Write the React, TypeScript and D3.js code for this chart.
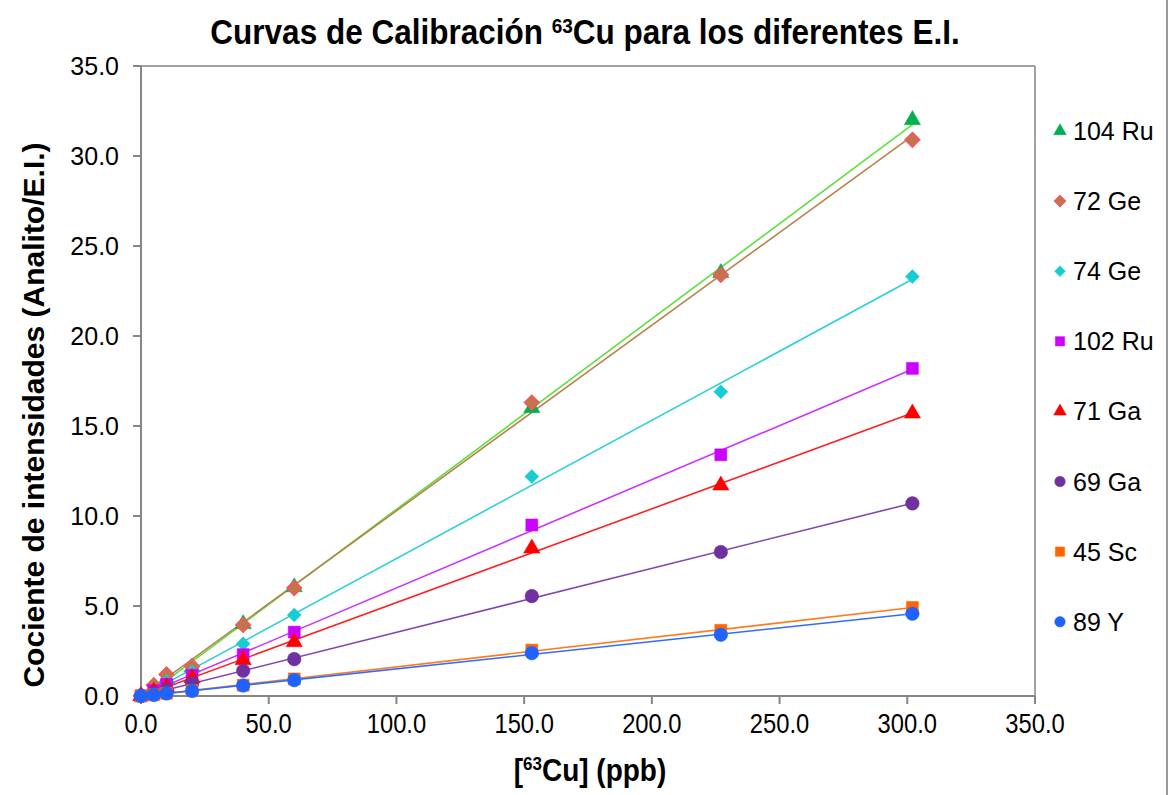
import React from "react";
import * as d3 from "d3";

const xValues = [0, 5, 10, 20, 40, 60, 153, 227, 302];

const ru104 = [0.02, 0.45, 0.95, 1.6, 4.0, 6.05, 16.0, 23.5, 32.0];
const ge72 = [0.03, 0.6, 1.2, 1.65, 3.95, 6.0, 16.3, 23.4, 30.9];
const ge74 = [0.02, 0.35, 0.8, 1.35, 2.9, 4.5, 12.2, 16.9, 23.3];
const ru102 = [0.01, 0.3, 0.65, 1.15, 2.3, 3.55, 9.5, 13.4, 18.2];
const ga71 = [0.0, 0.25, 0.5, 1.0, 2.0, 3.0, 8.2, 11.7, 15.7];
const ga69 = [0.0, 0.15, 0.35, 0.7, 1.4, 2.05, 5.55, 8.0, 10.7];
const sc45 = [0.0, 0.07, 0.15, 0.3, 0.6, 0.95, 2.55, 3.65, 4.92];
const y89 = [0.0, 0.06, 0.14, 0.28, 0.58, 0.88, 2.38, 3.4, 4.57];

const seriesNames = ["104 Ru", "72 Ge", "74 Ge", "102 Ru", "71 Ga", "69 Ga", "45 Sc", "89 Y"];
const seriesValues = [ru104, ge72, ge74, ru102, ga71, ga69, sc45, y89];
const seriesShapes = ["triangle", "diamond", "diamond", "square", "triangle", "circle", "square", "circle"];
const markerFill = ["#00b050", "#c27548", "#17cdd3", "#cc00ff", "#ff0000", "#7030a0", "#ff6600", "#1f63ff"];
const markerStroke = ["#00b050", "#e85d5e", "#17cdd3", "#cc00ff", "#ff0000", "#7030a0", "#ff6600", "#1f63ff"];
const lineColors = ["#5ee03a", "#b8824e", "#2ccfdc", "#cc33ff", "#ff2020", "#8048b0", "#ff7a1a", "#2f6cff"];

const xTicks = [0, 50, 100, 150, 200, 250, 300, 350];
const yTicks = [0, 5, 10, 15, 20, 25, 30, 35];

const W = 1170;
const H = 795;
const left = 141;
const right = 1035;
const top = 66;
const bottom = 696;

const FONT = "'Liberation Sans', Arial, Helvetica, sans-serif";
const AXIS = "#868686";

function symbolPath(shape: string, size: number) {
  let type: any = d3.symbolCircle;
  if (shape === "triangle") type = d3.symbolTriangle;
  if (shape === "square") type = d3.symbolSquare;
  if (shape === "diamond") type = (d3 as any).symbolDiamond2 || d3.symbolDiamond;
  return d3.symbol().type(type).size(size)() as string;
}

function markerSize(shape: string, legend: boolean) {
  const k = legend ? 0.6 : 1;
  if (shape === "triangle") return 115 * k;
  if (shape === "diamond") return 125 * k;
  if (shape === "square") return 144 * k;
  return 145 * k;
}

function fit(xs: number[], ys: number[]) {
  const mx = d3.mean(xs) as number;
  const my = d3.mean(ys) as number;
  let sxy = 0;
  let sxx = 0;
  xs.forEach((x, i) => {
    sxy += (x - mx) * (ys[i] - my);
    sxx += (x - mx) * (x - mx);
  });
  const slope = sxy / sxx;
  return { slope, intercept: my - slope * mx };
}

export default function App() {
  const x = d3.scaleLinear().domain([0, 350]).range([left, right]);
  const y = d3.scaleLinear().domain([0, 35]).range([bottom, top]);
  const line = d3.line<[number, number]>().x((d) => x(d[0])).y((d) => y(d[1]));
  const xMin = d3.min(xValues) as number;
  const xMax = d3.max(xValues) as number;

  return (
    <svg
      width={W}
      height={H}
      style={{ position: "absolute", left: 0, top: 0, background: "#fff" }}
      fontFamily={FONT}
    >
      <rect x={0} y={0} width={W} height={H} fill="#fff" />
      <line x1={1167} x2={1167} y1={0} y2={H} stroke="#9a9a9a" strokeWidth={2} />

      {/* Title */}
      <g transform="translate(585,44) scale(1,1.1)">
        <text x={0} y={0} textAnchor="middle" fontSize={31.5} fontWeight="bold" fill="#000">
          Curvas de Calibración <tspan fontSize={19} dy={-10}>63</tspan>
          <tspan dy={10}>Cu para los diferentes E.I.</tspan>
        </text>
      </g>

      {/* plot frame */}
      <line x1={left} x2={right} y1={top} y2={top} stroke={AXIS} strokeWidth={1.5} />
      <line x1={right} x2={right} y1={top} y2={bottom} stroke={AXIS} strokeWidth={1.5} />

      {/* y axis */}
      <line x1={left} x2={left} y1={top} y2={bottom} stroke={AXIS} strokeWidth={2} />
      {yTicks.map((t) => (
        <g key={"y" + t}>
          <line x1={left - 8} x2={left} y1={y(t)} y2={y(t)} stroke={AXIS} strokeWidth={2} />
          <text x={left - 22} y={y(t)} dy="0.36em" textAnchor="end" fontSize={25} fill="#000">
            {t.toFixed(1)}
          </text>
        </g>
      ))}

      {/* x axis */}
      <line x1={left} x2={right} y1={bottom} y2={bottom} stroke={AXIS} strokeWidth={2} />
      {xTicks.map((t) => (
        <g key={"x" + t}>
          <line x1={x(t)} x2={x(t)} y1={bottom} y2={bottom + 8} stroke={AXIS} strokeWidth={2} />
          <g transform={`translate(${x(t)},${bottom + 37}) scale(0.95,1.1)`}>
            <text x={0} y={0} textAnchor="middle" fontSize={25} fill="#000">
              {t.toFixed(1)}
            </text>
          </g>
        </g>
      ))}

      {/* axis titles */}
      <g transform="translate(590,781) scale(1,1.1)">
        <text x={0} y={0} textAnchor="middle" fontSize={28} fontWeight="bold" fill="#000">
          [<tspan fontSize={17} dy={-10}>63</tspan>
          <tspan dy={10}>Cu] (ppb)</tspan>
        </text>
      </g>
      <text
        transform={`translate(44, ${(top + bottom) / 2 + 34}) rotate(-90)`}
        textAnchor="middle"
        fontSize={30}
        fontWeight="bold"
        fill="#000"
      >
        Cociente de intensidades (Analito/E.I.)
      </text>

      {/* trend lines */}
      {seriesValues.map((vals, i) => {
        const f = fit(xValues, vals);
        const pts: [number, number][] = [
          [xMin, f.intercept + f.slope * xMin],
          [xMax, f.intercept + f.slope * xMax],
        ];
        return (
          <path key={"l" + i} d={line(pts) as string} fill="none" stroke={lineColors[i]} strokeWidth={1.6} />
        );
      })}

      {/* markers */}
      {seriesValues.map((vals, i) => (
        <g key={"m" + i}>
          {vals.map((v, j) => (
            <path
              key={j}
              d={symbolPath(seriesShapes[i], markerSize(seriesShapes[i], false))}
              transform={`translate(${x(xValues[j])},${y(v)})`}
              fill={markerFill[i]}
              stroke={markerStroke[i]}
              strokeWidth={i === 1 ? 2 : 0.5}
            />
          ))}
        </g>
      ))}

      {/* legend */}
      {seriesNames.map((name, i) => {
        const ly = 131 + i * 70.1;
        return (
          <g key={"lg" + i}>
            <path
              d={symbolPath(seriesShapes[i], markerSize(seriesShapes[i], true))}
              transform={`translate(1060,${ly})`}
              fill={markerFill[i]}
              stroke={markerStroke[i]}
              strokeWidth={i === 1 ? 1.5 : 0.5}
            />
            <text x={1073} y={ly} dy="0.36em" fontSize={25} fill="#000">
              {name}
            </text>
          </g>
        );
      })}
    </svg>
  );
}
